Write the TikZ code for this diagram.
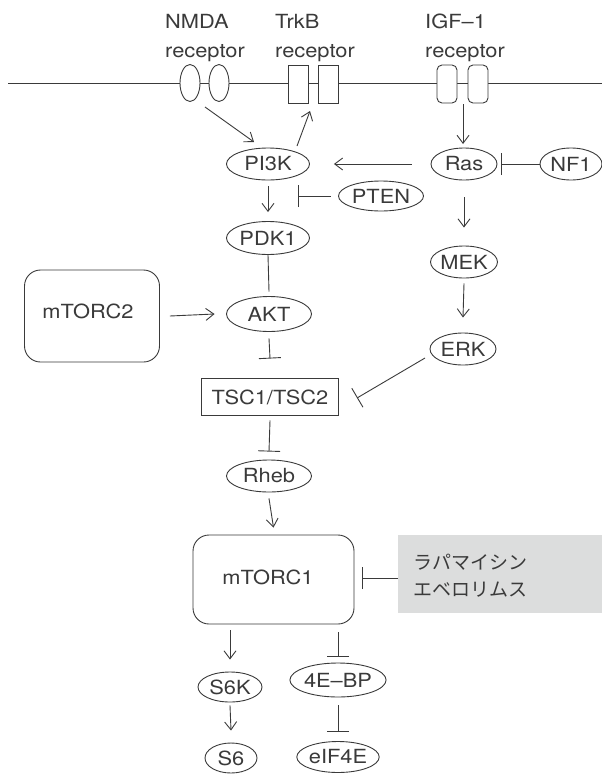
\documentclass[tikz,border=0pt]{standalone}
\usepackage{fontspec}
\setmainfont{TeX Gyre Heros}[FakeStretch=1.12]
\newfontfamily\jpfont{Noto Sans CJK JP}
\usetikzlibrary{arrows.meta,shapes.geometric}
\definecolor{ink}{HTML}{3A3A3A}
\definecolor{graybox}{HTML}{DCDDDD}
\begin{document}
\begin{tikzpicture}[x=1pt,y=-1pt,
  every node/.style={font=\fontsize{19.5}{22}\selectfont, text=ink},
  ell/.style={draw=ink, line width=0.9pt, ellipse, inner sep=0pt, minimum height=32},
  rbox/.style={draw=ink, line width=0.9pt, rounded corners=16pt, inner sep=0pt},
  ln/.style={draw=ink, line width=0.9pt},
  act/.style={ln, -{Straight Barb[length=8pt,width=12pt,line width=0.9pt]}},
  inh/.style={ln, -{Bar[width=22pt,line width=0.9pt]}},
  lbl/.style={anchor=base west, inner sep=0pt},
  jp/.style={anchor=west, inner sep=0pt, font=\jpfont\fontsize{19}{22}\selectfont}
]
\useasboundingbox (0,0) rectangle (602,774);

% membrane
\coordinate (mL) at (8,83);
\coordinate (mR) at (602,83);
\draw[ln] (mL) -- (mR);

% receptors
\node[draw=ink, line width=0.9pt, fill=white, ellipse, inner sep=0pt, minimum width=20, minimum height=37] (nm1) at (190,83) {};
\node[draw=ink, line width=0.9pt, fill=white, ellipse, inner sep=0pt, minimum width=20, minimum height=37] (nm2) at (219,83) {};
\node[draw=ink, line width=0.9pt, fill=white, rectangle, inner sep=0pt, minimum width=20, minimum height=38] (tr1) at (298,84) {};
\node[draw=ink, line width=0.9pt, fill=white, rectangle, inner sep=0pt, minimum width=20, minimum height=38] (tr2) at (328,84) {};
\node[draw=ink, line width=0.9pt, fill=white, rectangle, rounded corners=5pt, inner sep=0pt, minimum width=20, minimum height=38] (ig1) at (447,84) {};
\node[draw=ink, line width=0.9pt, fill=white, rectangle, rounded corners=5pt, inner sep=0pt, minimum width=20, minimum height=38] (ig2) at (478,84) {};

\node[lbl] (nmdaA) at (165,28) {NMDA};
\node[lbl] (nmdaB) at (165,57) {receptor};
\node[lbl] (trkbA) at (275,28) {TrkB};
\node[lbl] (trkbB) at (275,57) {receptor};
\node[lbl] (igfA) at (425,28) {IGF–1};
\node[lbl] (igfB) at (425,57) {receptor};

% nodes
\node[ell, minimum width=83] (pi3k) at (268,164) {PI3K};
\node[ell, minimum width=66] (ras) at (464,164) {Ras};
\node[ell, minimum width=62] (nf1) at (571,164) {NF1};
\node[ell, minimum width=85, minimum height=30] (pten) at (381,196) {PTEN};
\node[ell, minimum width=83, minimum height=33] (pdk1) at (268,238) {PDK1};
\node[ell, minimum width=66] (mek) at (464,262) {MEK};
\node[ell, minimum width=85, minimum height=35] (akt) at (269,314) {AKT};
\node[ell, minimum width=66] (erk) at (463,349) {ERK};
\node[draw=ink, line width=0.9pt, rectangle, inner sep=0pt, minimum width=137, minimum height=37] (tsc) at (270,397) {TSC1/TSC2};
\node[ell, minimum width=85] (rheb) at (269,476) {Rheb};
\node[rbox, minimum width=135, minimum height=92] (mtorc2) at (92,316) {};
\node (mtorc2txt) at (88,311) {mTORC2};
\node[rbox, minimum width=161, minimum height=89] (mtorc1) at (273.5,579.5) {};
\node (mtorc1txt) at (268,577) {mTORC1};
\node[ell, minimum width=64, minimum height=30] (s6k) at (230,687) {S6K};
\node[ell, minimum width=52, minimum height=30] (s6) at (231,758) {S6};
\node[ell, minimum width=82, minimum height=34] (ebp) at (338,680) {4E–BP};
\node[ell, minimum width=82, minimum height=31] (eif) at (338,757) {eIF4E};

\node[fill=graybox, inner sep=0pt, minimum width=204, minimum height=78, anchor=north west] (drug) at (398,535) {};
\node[jp] (drugA) at (413,562) {ラパマイシン};
\node[jp] (drugB) at (413,590) {エベロリムス};

% connectors
\coordinate (n0) at (205,107);
\coordinate (n1) at (254,142);
\draw[act] (n0) -- (n1);
\coordinate (t0) at (297,146);
\coordinate (t1) at (310,111);
\draw[act] (t0) -- (t1);
\coordinate (i0) at (463,104);
\coordinate (i1) at (463,144);
\draw[act] (i0) -- (i1);

\draw[act] ([shift={(-19,0)}]ras.west) -- ([shift={(24,0)}]pi3k.east);
\draw[inh] (nf1.west) -- ([shift={(4,0)}]ras.east);
\draw[inh] ([shift={(-7.5,0)}]pten.west) -- (298,196);
\draw[act] ([shift={(0,6)}]pi3k.south) -- ([shift={(0,-9)}]pdk1.north);
\draw[ln] (pdk1.south) -- ([shift={(0,-4.5)}]akt.north);
\draw[act] ([shift={(10,0)}]mtorc2.east) -- ([shift={(-11.5,0)}]akt.west);
\draw[act] ([shift={(0,17)}]ras.south) -- ([shift={(0,-18)}]mek.north);
\draw[act] ([shift={(0,5)}]mek.south) -- ([shift={(0,-15)}]erk.north);
\draw[inh] ([shift={(0,6.5)}]akt.south) -- ([shift={(0,-19.5)}]tsc.north);
\coordinate (e0) at (425,358);
\coordinate (e1) at (357,398);
\draw[inh] (e0) -- (e1);
\draw[inh] ([shift={(0,4.5)}]tsc.south) -- ([shift={(0,-8)}]rheb.north);
\draw[act] ([shift={(0,6)}]rheb.south) -- ([shift={(0,-7)}]mtorc1.north);
\draw[inh] (drug.west |- 0,578) -- (362,578);
\draw[act] (230,630) -- ([shift={(0,-12)}]s6k.north);
\draw[act] ([shift={(0,3)}]s6k.south) -- ([shift={(0,-12)}]s6.north);
\draw[inh] (338,632) -- ([shift={(0,-6)}]ebp.north);
\draw[inh] ([shift={(0,8)}]ebp.south) -- ([shift={(0,-9.5)}]eif.north);
\end{tikzpicture}
\end{document}
